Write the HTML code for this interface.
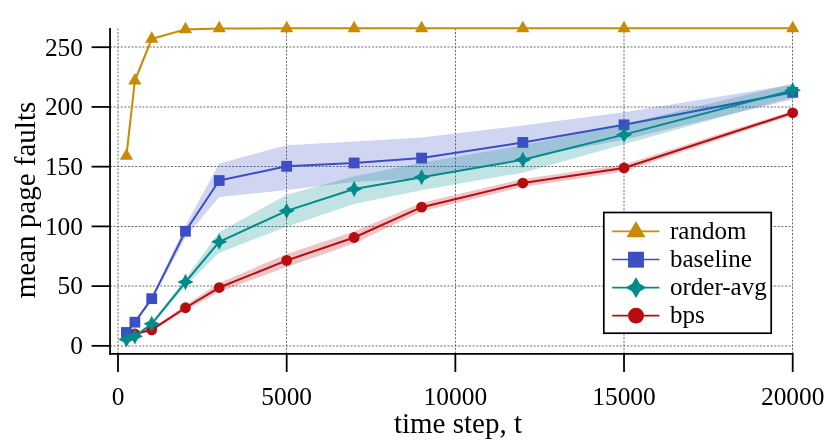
<!DOCTYPE html>
<html><head><meta charset="utf-8"><title>chart</title>
<style>html,body{margin:0;padding:0;background:#fff}svg{display:block;will-change:transform}</style>
</head><body>
<svg width="830" height="448" viewBox="0 0 830 448">
<rect width="830" height="448" fill="#fff"/>
<g stroke="#505050" stroke-width="0.85" stroke-dasharray="2 1.59" fill="none">
<path d="M110,346.00H792.8"/>
<path d="M110,286.00H792.8"/>
<path d="M110,226.50H792.8"/>
<path d="M110,166.50H792.8"/>
<path d="M110,107.00H792.8"/>
<path d="M110,47.00H792.8"/>
<path d="M118.00,353.5V28.3"/>
<path d="M286.50,353.5V28.3"/>
<path d="M455.50,353.5V28.3"/>
<path d="M624.00,353.5V28.3"/>
<path d="M792.50,353.5V28.3"/>
</g>
<path d="M126.43,151.13L134.87,77.06L151.74,37.05L185.47,28.56L219.21,27.85L286.68,27.73L354.14,27.73L421.62,27.73L522.82,27.73L624.02,27.73L792.70,27.73L792.70,28.92L624.02,28.92L522.82,28.92L421.62,28.92L354.14,28.92L286.68,28.92L219.21,29.04L185.47,30.24L151.74,40.63L134.87,84.23L126.43,160.69Z" fill="#c98a05" fill-opacity="0.24"/>
<path d="M126.43,155.91L134.87,80.65L151.74,38.84L185.47,29.40L219.21,28.44L286.68,28.33L354.14,28.33L421.62,28.33L522.82,28.33L624.02,28.33L792.70,28.33" fill="none" stroke="#c98a05" stroke-width="2.0" stroke-linejoin="round"/>
<g fill="#c98a05">
<path d="M126.43,148.26L133.06,159.73L119.81,159.73Z"/>
<path d="M134.87,73.00L141.49,84.47L128.24,84.47Z"/>
<path d="M151.74,31.19L158.36,42.66L145.11,42.66Z"/>
<path d="M185.47,21.75L192.09,33.23L178.85,33.23Z"/>
<path d="M219.21,20.79L225.83,32.27L212.58,32.27Z"/>
<path d="M286.68,20.68L293.30,32.15L280.05,32.15Z"/>
<path d="M354.14,20.68L360.77,32.15L347.52,32.15Z"/>
<path d="M421.62,20.68L428.24,32.15L414.99,32.15Z"/>
<path d="M522.82,20.68L529.44,32.15L516.20,32.15Z"/>
<path d="M624.02,20.68L630.65,32.15L617.40,32.15Z"/>
<path d="M792.70,20.68L799.32,32.15L786.08,32.15Z"/>
</g>
<path d="M126.43,332.47L134.87,333.19L151.74,328.41L185.47,304.99L219.21,283.01L286.68,253.99L354.14,231.53L421.62,202.86L522.82,179.08L624.02,164.51L792.70,110.63L792.70,114.93L624.02,171.44L522.82,186.97L421.62,211.46L354.14,243.47L286.68,266.89L219.21,292.09L185.47,310.49L151.74,331.28L134.87,334.86L126.43,334.14Z" fill="#b80d10" fill-opacity="0.24"/>
<path d="M126.43,333.31L134.87,334.02L151.74,329.84L185.47,307.74L219.21,287.55L286.68,260.44L354.14,237.50L421.62,207.16L522.82,183.03L624.02,167.97L792.70,112.78" fill="none" stroke="#b80d10" stroke-width="2.0" stroke-linejoin="round"/>
<g fill="#b80d10">
<circle cx="134.87" cy="334.02" r="5.4"/>
<circle cx="151.74" cy="329.84" r="5.4"/>
<circle cx="185.47" cy="307.74" r="5.4"/>
<circle cx="219.21" cy="287.55" r="5.4"/>
<circle cx="286.68" cy="260.44" r="5.4"/>
<circle cx="354.14" cy="237.50" r="5.4"/>
<circle cx="421.62" cy="207.16" r="5.4"/>
<circle cx="522.82" cy="183.03" r="5.4"/>
<circle cx="624.02" cy="167.97" r="5.4"/>
<circle cx="792.70" cy="112.78" r="5.4"/>
</g>
<path d="M126.43,331.51L134.87,320.76L151.74,296.27L185.47,225.43L219.21,163.55L286.68,145.16L354.14,141.57L421.62,137.51L522.82,125.45L624.02,112.31L792.70,84.47L792.70,99.52L624.02,139.66L522.82,158.30L421.62,178.25L354.14,181.95L286.68,189.95L219.21,197.12L185.47,237.14L151.74,301.05L134.87,323.63L126.43,333.43Z" fill="#3c4ec4" fill-opacity="0.24"/>
<path d="M126.43,332.47L134.87,322.20L151.74,298.66L185.47,231.29L219.21,180.52L286.68,166.30L354.14,162.96L421.62,158.06L522.82,142.41L624.02,124.85L792.70,92.36" fill="none" stroke="#3c4ec4" stroke-width="2.0" stroke-linejoin="round"/>
<g fill="#3c4ec4">
<path d="M121.03,327.07h10.8v10.8h-10.8Z"/>
<path d="M129.47,316.80h10.8v10.8h-10.8Z"/>
<path d="M146.34,293.26h10.8v10.8h-10.8Z"/>
<path d="M180.07,225.89h10.8v10.8h-10.8Z"/>
<path d="M213.81,175.12h10.8v10.8h-10.8Z"/>
<path d="M281.28,160.90h10.8v10.8h-10.8Z"/>
<path d="M348.75,157.56h10.8v10.8h-10.8Z"/>
<path d="M416.22,152.66h10.8v10.8h-10.8Z"/>
<path d="M517.42,137.01h10.8v10.8h-10.8Z"/>
<path d="M618.62,119.45h10.8v10.8h-10.8Z"/>
<path d="M787.30,86.96h10.8v10.8h-10.8Z"/>
</g>
<path d="M126.43,338.68L134.87,335.34L151.74,322.44L185.47,278.59L219.21,231.89L286.68,194.73L354.14,176.34L421.62,162.84L522.82,145.16L624.02,124.25L792.70,83.64L792.70,97.37L624.02,144.32L522.82,172.63L421.62,190.31L354.14,203.93L286.68,226.87L219.21,252.67L185.47,286.12L151.74,325.30L134.87,337.25L126.43,340.12Z" fill="#008b8b" fill-opacity="0.24"/>
<path d="M126.43,339.40L134.87,336.29L151.74,323.87L185.47,282.06L219.21,241.80L286.68,210.86L354.14,189.00L421.62,177.17L522.82,159.73L624.02,134.64L792.70,90.21" fill="none" stroke="#008b8b" stroke-width="2.0" stroke-linejoin="round"/>
<g fill="#008b8b">
<path d="M126.43,331.20L129.19,336.64L134.63,339.40L129.19,342.16L126.43,347.60L123.68,342.16L118.23,339.40L123.68,336.64Z"/>
<path d="M134.87,328.09L137.63,333.54L143.07,336.29L137.63,339.05L134.87,344.49L132.11,339.05L126.67,336.29L132.11,333.54Z"/>
<path d="M151.74,315.67L154.49,321.11L159.94,323.87L154.49,326.63L151.74,332.07L148.98,326.63L143.54,323.87L148.98,321.11Z"/>
<path d="M185.47,273.86L188.23,279.30L193.67,282.06L188.23,284.82L185.47,290.26L182.71,284.82L177.27,282.06L182.71,279.30Z"/>
<path d="M219.21,233.60L221.96,239.04L227.41,241.80L221.96,244.56L219.21,250.00L216.45,244.56L211.01,241.80L216.45,239.04Z"/>
<path d="M286.68,202.66L289.43,208.10L294.88,210.86L289.43,213.62L286.68,219.06L283.92,213.62L278.48,210.86L283.92,208.10Z"/>
<path d="M354.14,180.80L356.90,186.24L362.34,189.00L356.90,191.76L354.14,197.20L351.39,191.76L345.94,189.00L351.39,186.24Z"/>
<path d="M421.62,168.97L424.37,174.41L429.81,177.17L424.37,179.93L421.62,185.37L418.86,179.93L413.42,177.17L418.86,174.41Z"/>
<path d="M522.82,151.53L525.58,156.97L531.02,159.73L525.58,162.49L522.82,167.93L520.06,162.49L514.62,159.73L520.06,156.97Z"/>
<path d="M624.02,126.44L626.78,131.89L632.23,134.64L626.78,137.40L624.02,142.84L621.27,137.40L615.82,134.64L621.27,131.89Z"/>
<path d="M792.70,82.01L795.46,87.45L800.90,90.21L795.46,92.96L792.70,98.41L789.94,92.96L784.50,90.21L789.94,87.45Z"/>
</g>
<g stroke="#000" stroke-width="1.8" fill="none">
<path d="M110.05,27.9V354.7"/>
<path d="M109.2,353.87H793.5"/>
<path d="M91.6,345.85H110.1"/>
<path d="M91.6,286.12H110.1"/>
<path d="M91.6,226.39H110.1"/>
<path d="M91.6,166.66H110.1"/>
<path d="M91.6,106.93H110.1"/>
<path d="M91.6,47.20H110.1"/>
<path d="M118.00,353.9V372"/>
<path d="M286.68,353.9V372"/>
<path d="M455.35,353.9V372"/>
<path d="M624.02,353.9V372"/>
<path d="M792.70,353.9V372"/>
</g>
<g font-family="'Liberation Serif', serif" font-size="25.4px" fill="#000">
<text x="83" y="354.15" text-anchor="end">0</text>
<text x="83" y="294.42" text-anchor="end">50</text>
<text x="83" y="234.69" text-anchor="end">100</text>
<text x="83" y="174.96" text-anchor="end">150</text>
<text x="83" y="115.23" text-anchor="end">200</text>
<text x="83" y="55.50" text-anchor="end">250</text>
<text x="118.00" y="404.8" text-anchor="middle">0</text>
<text x="286.68" y="404.8" text-anchor="middle">5000</text>
<text x="455.35" y="404.8" text-anchor="middle">10000</text>
<text x="624.02" y="404.8" text-anchor="middle">15000</text>
<text x="792.70" y="404.8" text-anchor="middle">20000</text>
</g>
<g font-family="'Liberation Serif', serif" font-size="29px" fill="#000">
<text x="458" y="433" text-anchor="middle">time step, t</text>
<text transform="translate(34.8,200) rotate(-90)" text-anchor="middle">mean page faults</text>
</g>
<rect x="603.8" y="212.5" width="167.4" height="120.7" fill="#fff" stroke="#000" stroke-width="1.7"/>
<path d="M612.2,231.4H659.4" stroke="#c98a05" stroke-width="1.7" fill="none"/>
<path d="M636.00,220.90L645.44,237.25L626.56,237.25Z" fill="#c98a05"/>
<text x="670" y="239.20" font-family="'Liberation Serif', serif" font-size="25px" fill="#000">random</text>
<path d="M612.2,259.5H659.4" stroke="#3c4ec4" stroke-width="1.7" fill="none"/>
<path d="M628.05,251.75h15.9v15.9h-15.9Z" fill="#3c4ec4"/>
<text x="670" y="267.30" font-family="'Liberation Serif', serif" font-size="25px" fill="#000">baseline</text>
<path d="M612.2,287.6H659.4" stroke="#008b8b" stroke-width="1.7" fill="none"/>
<path d="M636.00,277.30L639.89,283.71L646.30,287.60L639.89,291.49L636.00,297.90L632.11,291.49L625.70,287.60L632.11,283.71Z" fill="#008b8b"/>
<text x="670" y="295.40" font-family="'Liberation Serif', serif" font-size="25px" fill="#000">order-avg</text>
<path d="M612.2,315.6H659.4" stroke="#b80d10" stroke-width="1.7" fill="none"/>
<g fill="#b80d10"><circle cx="636.00" cy="315.60" r="7.95"/></g>
<text x="670" y="323.40" font-family="'Liberation Serif', serif" font-size="25px" fill="#000">bps</text>
</svg>
</body></html>
